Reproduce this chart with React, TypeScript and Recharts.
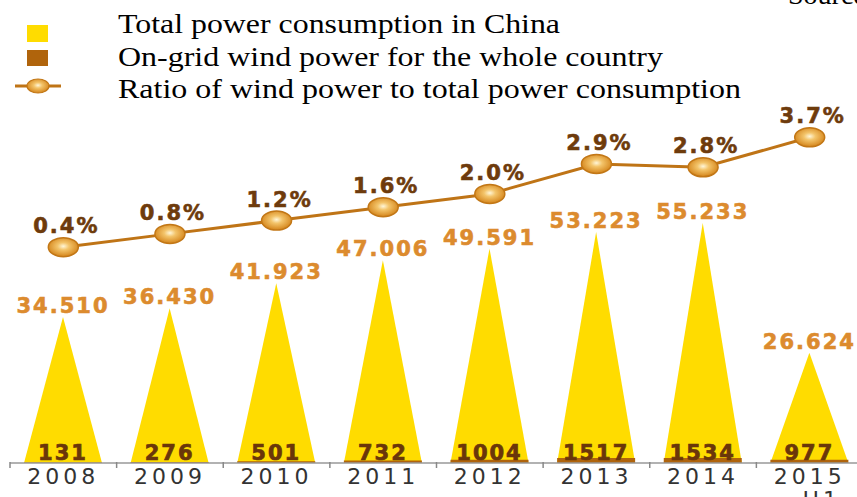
import React from "react";
import { ComposedChart, Bar, Line, XAxis, YAxis, LabelList } from "recharts";

const years = ["2008", "2009", "2010", "2011", "2012", "2013", "2014", "2015"];
// total power consumption (thousand 100-million kWh)
const totalConsumption = [34.51, 36.43, 41.923, 47.006, 49.591, 53.223, 55.233, 26.624];
// on-grid wind power (100-million kWh)
const windPower = [131, 276, 501, 732, 1004, 1517, 1534, 977];
// ratio of wind power to total (%)
const windRatio = [0.4, 0.8, 1.2, 1.6, 2.0, 2.9, 2.8, 3.7];

const data = years.map((year, i) => ({
  year,
  total: totalConsumption[i],
  wind: windPower[i],
  ratio: windRatio[i],
}));

const W = 864;
const H = 497;
const margin = { top: 110, right: 1, bottom: 4, left: 10 };
const band = (W - margin.left - margin.right) / years.length;

const boldFont = "'DejaVu Sans', sans-serif";

const Triangle = (props: any) => {
  const { x, y, width, height, fill } = props;
  if (!height || height <= 0) return null;
  const pts = `${x},${y + height} ${x + width / 2},${y} ${x + width},${y + height}`;
  return <polygon points={pts} fill={fill} />;
};

const YearTick = (props: any) => {
  const { x, y, payload } = props;
  return (
    <g>
      <line x1={x - band / 2} y1={y - 1} x2={x - band / 2} y2={y + 5} stroke="#888" strokeWidth={1.5} />
      <text x={x} y={y + 21} textAnchor="middle" fontFamily="'DejaVu Sans', sans-serif" fontSize={22} letterSpacing={4} fill="#333">
        {payload.value}
      </text>
      {payload.value === "2015" && (
        <text x={x + 12} y={y + 44} textAnchor="middle" fontFamily="'DejaVu Sans', sans-serif" fontSize={22} letterSpacing={4} fill="#333">
          H1
        </text>
      )}
    </g>
  );
};

const RatioDot = (props: any) => {
  const { cx, cy, index } = props;
  return (
    <g key={`dot-${index}`}>
      <defs>
        <radialGradient id={`dotGrad${index}`} cx="50%" cy="45%" r="55%">
          <stop offset="0%" stopColor="#fff6d8" />
          <stop offset="35%" stopColor="#f3c46a" />
          <stop offset="100%" stopColor="#d4841a" />
        </radialGradient>
      </defs>
      <ellipse cx={cx} cy={cy} rx={15} ry={9.5} fill={`url(#dotGrad${index})`} stroke="#c27716" strokeWidth={1.5} />
    </g>
  );
};

const RatioLabel = (props: any) => {
  const { x, y, value } = props;
  return (
    <text x={x + 3} y={y - 14} textAnchor="middle" fontFamily={boldFont} fontWeight="bold" fontSize={21} letterSpacing={2} fill="#6e3b0c" stroke="#6e3b0c" strokeWidth={0.6}>
      {`${Number(value).toFixed(1)}%`}
    </text>
  );
};

const TotalLabel = (props: any) => {
  const { x, y, width, value } = props;
  return (
    <text x={x + width / 2} y={y - 4} textAnchor="middle" fontFamily={boldFont} fontWeight="bold" fontSize={21} letterSpacing={2} fill="#dc8b2e" stroke="#dc8b2e" strokeWidth={0.6}>
      {Number(value).toFixed(3)}
    </text>
  );
};

const WindLabel = (props: any) => {
  const { x, y, width, height, value } = props;
  return (
    <text x={x + width / 2} y={y + height - 3} textAnchor="middle" fontFamily={boldFont} fontWeight="bold" fontSize={21} letterSpacing={2} fill="#6a360a" stroke="#6a360a" strokeWidth={0.7}>
      {value}
    </text>
  );
};

const Legend = () => (
  <svg width={857} height={110} style={{ position: "absolute", left: 0, top: 0, pointerEvents: "none" }}>
    <defs>
      <radialGradient id="legGrad" cx="50%" cy="45%" r="55%">
        <stop offset="0%" stopColor="#fff6d8" />
        <stop offset="35%" stopColor="#f3c46a" />
        <stop offset="100%" stopColor="#d4841a" />
      </radialGradient>
    </defs>
    <rect x={27} y={25} width={21} height={17} fill="#ffdc00" />
    <rect x={27} y={50} width={21} height={16} fill="#b0640c" />
    <line x1={15} y1={86} x2={61} y2={86} stroke="#bf7416" strokeWidth={3} />
    <ellipse cx={38} cy={86} rx={11} ry={7} fill="url(#legGrad)" stroke="#c27716" strokeWidth={1.2} />
    <g fontFamily="'Liberation Serif', serif" fontSize={28} fill="#000">
      <text x={118} y={33} textLength={442} lengthAdjust="spacingAndGlyphs">Total power consumption in China</text>
      <text x={118} y={66} textLength={545} lengthAdjust="spacingAndGlyphs">On-grid wind power for the whole country</text>
      <text x={118} y={98} textLength={623} lengthAdjust="spacingAndGlyphs">Ratio of wind power to total power consumption</text>
      <text x={788} y={4}>Source</text>
    </g>
  </svg>
);

export default function App() {
  return (
    <div style={{ position: "absolute", left: 0, top: 0, width: 857, height: 497, overflow: "hidden", background: "#fff" }}>
      <ComposedChart width={W} height={H} data={data} margin={margin}>
        <XAxis
          xAxisId="a"
          dataKey="year"
          tick={<YearTick />}
          tickLine={false}
          tickSize={0}
          tickMargin={0}
          axisLine={{ stroke: "#999", strokeWidth: 1.5 }}
          interval={0}
        />
        <XAxis xAxisId="b" dataKey="year" hide />
        <YAxis yAxisId="total" domain={[2.36, 80.1]} hide allowDataOverflow />
        <YAxis yAxisId="wind" domain={[0, 108000]} hide allowDataOverflow />
        <YAxis yAxisId="ratio" domain={[-6.08, 4.52]} hide allowDataOverflow />
        <Bar xAxisId="a" yAxisId="total" dataKey="total" barSize={78} fill="#ffdc00" shape={<Triangle />} isAnimationActive={false}>
          <LabelList dataKey="total" content={<TotalLabel />} />
        </Bar>
        <Bar xAxisId="b" yAxisId="wind" dataKey="wind" barSize={78} fill="#b0640c" isAnimationActive={false}>
          <LabelList dataKey="wind" content={<WindLabel />} />
        </Bar>
        <Line
          xAxisId="a"
          yAxisId="ratio"
          dataKey="ratio"
          stroke="#bf7416"
          strokeWidth={3}
          dot={<RatioDot />}
          activeDot={false}
          isAnimationActive={false}
        >
          <LabelList dataKey="ratio" content={<RatioLabel />} />
        </Line>
      </ComposedChart>
      <Legend />
    </div>
  );
}
